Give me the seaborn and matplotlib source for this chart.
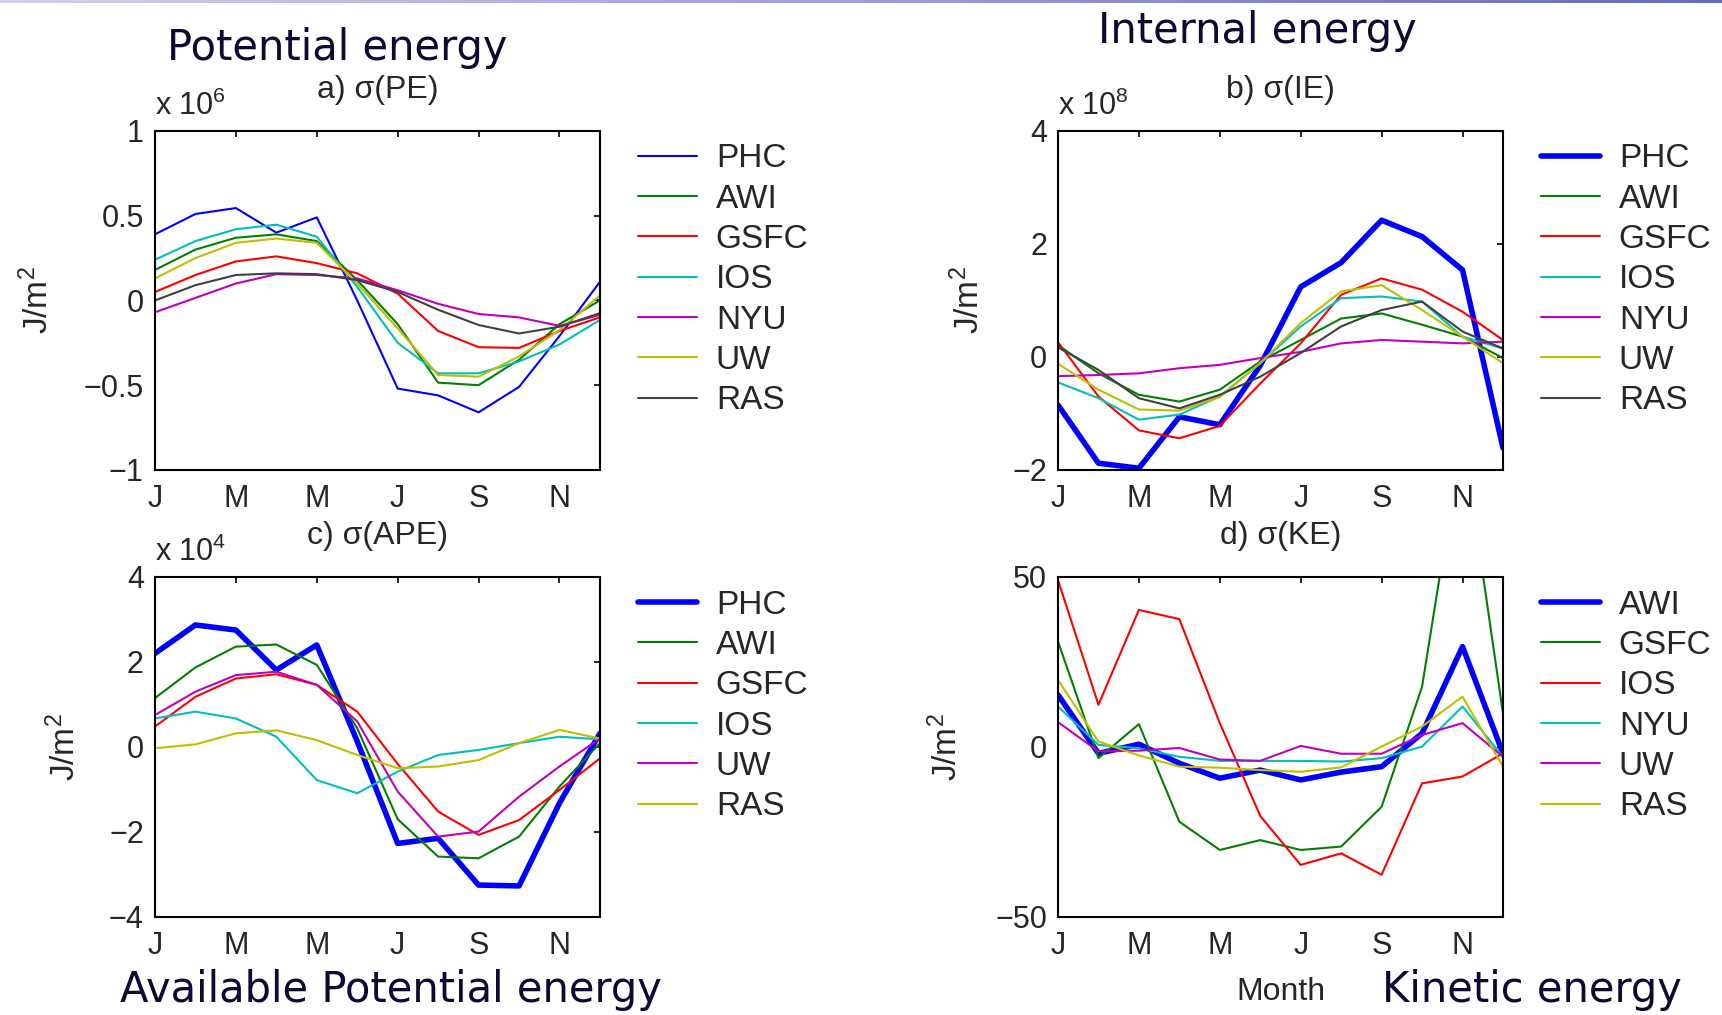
import numpy as np
import matplotlib
matplotlib.use('Agg')
import matplotlib.pyplot as plt
import seaborn as sns
from matplotlib.colors import LinearSegmentedColormap

# Style
sns.set_theme(style='white')
plt.rcParams['font.family'] = ['Liberation Sans', 'DejaVu Sans']
plt.rcParams['mathtext.default'] = 'regular'

months = list(range(1, 13))
month_ticks = [1, 3, 5, 7, 9, 11]
month_labels = ['J', 'M', 'M', 'J', 'S', 'N']

# matlab default colour order
colors = ['#0000FF', '#008000', '#FF0000', '#00BFBF', '#BF00BF', '#BFBF00', '#404040']

# a) sigma(PE), units of 1e6 J/m^2
pe_names = ['PHC', 'AWI', 'GSFC', 'IOS', 'NYU', 'UW', 'RAS']
pe_phc = [0.39, 0.51, 0.545, 0.40, 0.49, 0.0, -0.52, -0.56, -0.66, -0.51, -0.21, 0.11]
pe_awi = [0.18, 0.30, 0.37, 0.39, 0.35, 0.12, -0.14, -0.485, -0.50, -0.35, -0.14, 0.0]
pe_gsfc = [0.05, 0.15, 0.23, 0.26, 0.22, 0.16, 0.04, -0.18, -0.276, -0.28, -0.18, -0.10]
pe_ios = [0.24, 0.35, 0.42, 0.447, 0.376, 0.08, -0.25, -0.43, -0.43, -0.36, -0.26, -0.115]
pe_nyu = [-0.07, 0.015, 0.10, 0.155, 0.15, 0.13, 0.06, -0.02, -0.08, -0.10, -0.15, -0.085]
pe_uw = [0.13, 0.25, 0.34, 0.365, 0.34, 0.10, -0.165, -0.44, -0.45, -0.33, -0.175, 0.03]
pe_ras = [0.0, 0.09, 0.15, 0.16, 0.155, 0.12, 0.05, -0.055, -0.145, -0.195, -0.155, -0.075]

# b) sigma(IE), units of 1e8 J/m^2
ie_names = ['PHC', 'AWI', 'GSFC', 'IOS', 'NYU', 'UW', 'RAS']
ie_phc = [-0.85, -1.88, -1.97, -1.06, -1.20, -0.15, 1.24, 1.67, 2.42, 2.13, 1.54, -1.61]
ie_awi = [0.21, -0.29, -0.67, -0.79, -0.58, -0.08, 0.30, 0.68, 0.77, 0.57, 0.36, -0.02]
ie_gsfc = [0.26, -0.70, -1.30, -1.44, -1.22, -0.47, 0.24, 1.10, 1.39, 1.19, 0.80, 0.30]
ie_ios = [-0.45, -0.73, -1.11, -1.02, -0.70, -0.11, 0.54, 1.04, 1.07, 0.98, 0.36, 0.15]
ie_nyu = [-0.34, -0.32, -0.29, -0.20, -0.14, -0.02, 0.09, 0.24, 0.30, 0.27, 0.24, 0.27]
ie_uw = [-0.12, -0.58, -0.93, -0.95, -0.71, -0.11, 0.60, 1.16, 1.27, 0.83, 0.36, -0.11]
ie_ras = [0.17, -0.23, -0.73, -0.91, -0.67, -0.35, 0.07, 0.54, 0.83, 0.98, 0.45, 0.15]

# c) sigma(APE), units of 1e4 J/m^2
ape_names = ['PHC', 'AWI', 'GSFC', 'IOS', 'UW', 'RAS']
ape_phc = [2.20, 2.87, 2.75, 1.81, 2.40, 0.13, -2.27, -2.15, -3.25, -3.27, -1.32, 0.32]
ape_awi = [1.15, 1.87, 2.36, 2.41, 1.93, 0.44, -1.70, -2.58, -2.62, -2.11, -0.93, 0.09]
ape_gsfc = [0.48, 1.18, 1.61, 1.71, 1.46, 0.83, -0.40, -1.52, -2.07, -1.72, -1.01, -0.27]
ape_ios = [0.67, 0.83, 0.67, 0.24, -0.78, -1.09, -0.58, -0.19, -0.07, 0.09, 0.24, 0.18]
ape_uw = [0.75, 1.30, 1.69, 1.77, 1.46, 0.60, -1.05, -2.11, -1.99, -1.17, -0.46, 0.20]
ape_ras = [-0.03, 0.06, 0.32, 0.39, 0.16, -0.19, -0.50, -0.46, -0.31, 0.09, 0.40, 0.20]

# d) sigma(KE), J/m^2
ke_names = ['AWI', 'GSFC', 'IOS', 'NYU', 'UW', 'RAS']
ke_awi = [15.3, -1.9, 0.8, -4.8, -9.2, -6.8, -9.7, -7.4, -5.8, 4.0, 29.5, -1.9]
ke_gsfc = [31.0, -3.3, 6.7, -22.0, -30.3, -27.4, -30.3, -29.3, -17.6, 17.7, 92.0, 9.9]
ke_ios = [49.1, 12.4, 40.3, 37.6, 7.0, -20.3, -34.7, -31.3, -37.6, -10.7, -8.7, -1.9]
ke_nyu = [11.9, 0.6, -0.4, -2.9, -4.1, -4.1, -4.1, -4.3, -3.3, 0.1, 11.9, -2.9]
ke_uw = [7.3, -1.3, -1.1, -0.3, -3.7, -4.1, 0.3, -2.0, -2.0, 3.5, 7.0, -2.9]
ke_ras = [19.7, 1.6, -2.5, -5.8, -6.1, -6.8, -7.3, -6.0, 0.1, 6.0, 14.8, -5.8]

panels = [
    dict(series=[pe_phc, pe_awi, pe_gsfc, pe_ios, pe_nyu, pe_uw, pe_ras], names=pe_names,
         thick_first=False, ylim=(-1, 1), yticks=[-1, -0.5, 0, 0.5, 1],
         title='a) σ(PE)', mult='x 10$^6$'),
    dict(series=[ie_phc, ie_awi, ie_gsfc, ie_ios, ie_nyu, ie_uw, ie_ras], names=ie_names,
         thick_first=True, ylim=(-2, 4), yticks=[-2, 0, 2, 4],
         title='b) σ(IE)', mult='x 10$^8$'),
    dict(series=[ape_phc, ape_awi, ape_gsfc, ape_ios, ape_uw, ape_ras], names=ape_names,
         thick_first=True, ylim=(-4, 4), yticks=[-4, -2, 0, 2, 4],
         title='c) σ(APE)', mult='x 10$^4$'),
    dict(series=[ke_awi, ke_gsfc, ke_ios, ke_nyu, ke_uw, ke_ras], names=ke_names,
         thick_first=True, ylim=(-50, 50), yticks=[-50, 0, 50],
         title='d) σ(KE)', mult=None),
]

# axes rectangles (figure fraction) and ylabel x positions (axes fraction)
rects = [[0.090, 0.537, 0.2584, 0.334], [0.6144, 0.537, 0.2584, 0.334],
         [0.090, 0.0966, 0.2584, 0.335], [0.6144, 0.0966, 0.2584, 0.335]]
ylab_x = [-0.225, -0.162, -0.164, -0.211]

fig = plt.figure(figsize=(17.22, 10.15), dpi=100)
fig.patch.set_facecolor('white')

text_col = '#262626'

for p, rect, lx in zip(panels, rects, ylab_x):
    ax = fig.add_axes(rect)
    for i, (vals, name) in enumerate(zip(p['series'], p['names'])):
        lw = 4.0 if (i == 0 and p['thick_first']) else 1.5
        sns.lineplot(x=months, y=vals, color=colors[i], linewidth=lw, label=name, ax=ax)
    ax.set_xlim(1, 12)
    ax.set_ylim(*p['ylim'])
    ax.set_xticks(month_ticks)
    ax.set_xticklabels(month_labels)
    ax.set_yticks(p['yticks'])
    ax.set_yticklabels([('\u2212' if t < 0 else '') + ('%g' % abs(t)) for t in p['yticks']])
    ax.tick_params(axis='both', direction='in', length=4.5, width=1.2, colors='black',
                   labelcolor=text_col, labelsize=22, top=True, right=True)
    ax.tick_params(axis='x', pad=10)
    ax.tick_params(axis='y', pad=8)
    for s in ax.spines.values():
        s.set_color('black')
        s.set_linewidth(1.5)
    ax.set_xlabel('')
    ax.set_ylabel('J/m$^2$', fontsize=24, color=text_col)
    ax.yaxis.set_label_coords(lx, 0.5)
    ax.set_title(p['title'], fontsize=23, color=text_col, pad=24)
    if p['mult']:
        ax.text(0.0, 1.0 + 16 / 339, p['mult'], transform=ax.transAxes, ha='left',
                va='baseline', fontsize=22, color=text_col)
    ax.legend(loc='upper left', bbox_to_anchor=(1.085, 0.963), frameon=False,
              fontsize=24, borderaxespad=0, borderpad=0, handlelength=1.77,
              handletextpad=0.57, labelspacing=0.28, labelcolor=text_col)
    ax.grid(False)
    ax.set_facecolor('white')

# x label of panel d
fig.text(1281 / 1722, 1 - 1000 / 1015, 'Month', ha='center', va='baseline',
         fontsize=23, color=text_col)

# slide headings
head_col = '#0a0a33'
head_font = 'DejaVu Sans'
fig.text(337 / 1722, 1 - 60 / 1015, 'Potential energy', ha='center', va='baseline',
         fontsize=30, color=head_col, family=head_font)
fig.text(1257 / 1722, 1 - 43 / 1015, 'Internal energy', ha='center', va='baseline',
         fontsize=30, color=head_col, family=head_font)
fig.text(391 / 1722, 1 - 1002 / 1015, 'Available Potential energy', ha='center',
         va='baseline', fontsize=30, color=head_col, family=head_font)
fig.text(1532 / 1722, 1 - 1002 / 1015, 'Kinetic energy', ha='center', va='baseline',
         fontsize=30, color=head_col, family=head_font)

# thin gradient strip at the top of the slide
bar = fig.add_axes([0, 1 - 3 / 1015, 1, 3 / 1015])
grad = np.linspace(0, 1, 256)[None, :]
cmap = LinearSegmentedColormap.from_list('strip', ['#d0d0f0', '#6a6ac0'])
bar.imshow(grad, aspect='auto', cmap=cmap)
bar.axis('off')

fig.savefig('out.png', dpi=100, facecolor='white')
